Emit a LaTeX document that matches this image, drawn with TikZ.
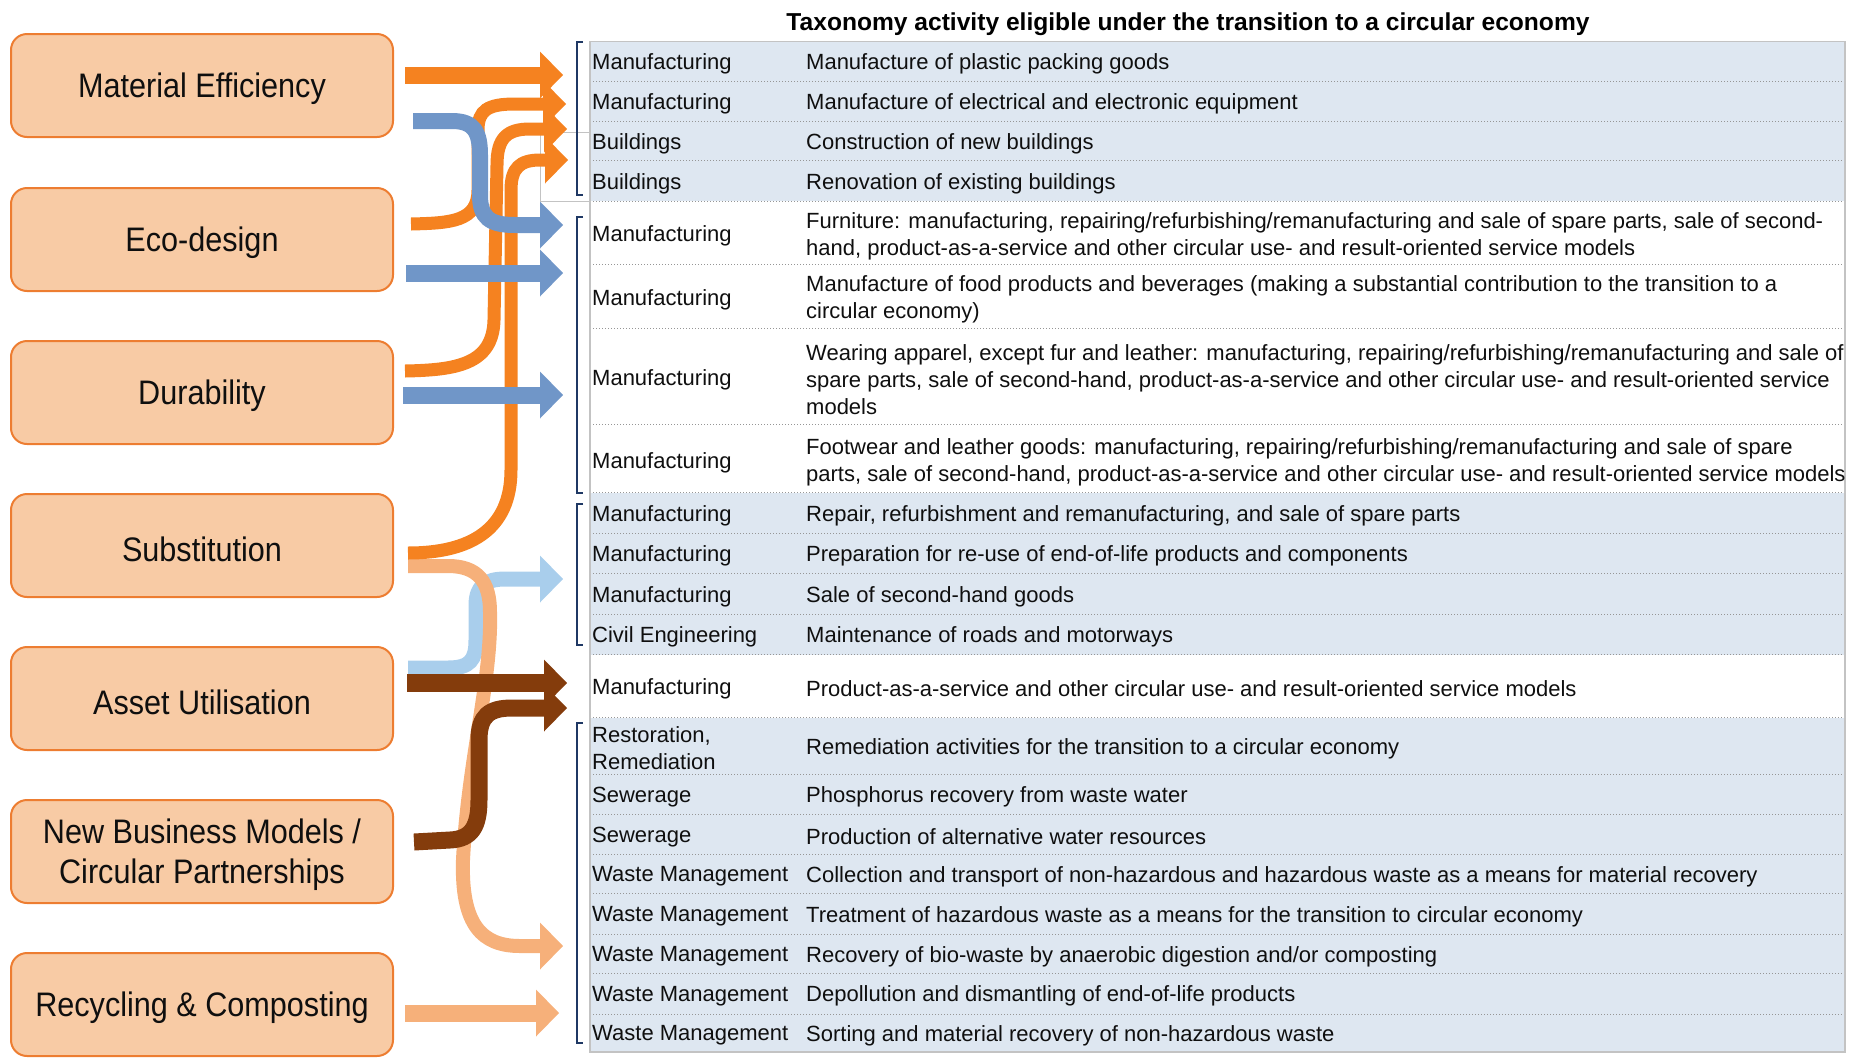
\documentclass[tikz,border=0pt]{standalone}
\usepackage{fontspec}
\usepackage{graphicx}
\setmainfont{Liberation Sans}
\newfontfamily\boxfont[FakeStretch=0.9]{Liberation Sans}
\newfontfamily\titlefont[FakeStretch=0.86]{Liberation Sans}
\usetikzlibrary{arrows.meta}
\definecolor{cOrange}{RGB}{245,130,32}
\definecolor{cBlue}{RGB}{112,150,200}
\definecolor{cLBlue}{RGB}{169,206,236}
\definecolor{cBrown}{RGB}{132,60,12}
\definecolor{cLOrange}{RGB}{246,176,122}
\definecolor{cBoxFill}{RGB}{248,203,165}
\definecolor{cBoxLine}{RGB}{237,125,49}
\definecolor{cRow}{RGB}{222,231,241}
\definecolor{cGrid}{RGB}{195,195,195}
\definecolor{cDot}{RGB}{150,150,150}
\definecolor{cNavy}{RGB}{31,56,100}
\definecolor{cText}{RGB}{15,15,15}
\newcommand\trow[4]{%
  \node[catcell] (c#1) at (592,#2+2.5) {#3};
  \node[desccell] (d#1) at (806,#2+2.5) {#4};}
\newcommand\cboxat[4]{%
  \node[cbox] (#1) at (202,#2) {};
  \node[boxlabel] (#1L) at ([yshift=-3.5pt]#1.center) {#3};}
\begin{document}
\begin{tikzpicture}[x=1pt,y=-1pt,
  cbox/.style={draw=cBoxLine, fill=cBoxFill, line width=2pt, rounded corners=16pt,
    minimum width=382pt, minimum height=103pt, inner sep=0pt},
  boxlabel/.style={inner sep=0pt, align=center, text=cText,
    font=\boxfont\fontsize{34}{40}\selectfont},
  catcell/.style={anchor=west, inner sep=0pt, align=left, text=cText, font=\fontsize{22}{27}\selectfont},
  desccell/.style={anchor=west, inner sep=0pt, align=left, text=cText, font=\fontsize{22}{27}\selectfont},
  dotline/.style={cDot, line width=0.8pt, dash pattern=on 1pt off 2pt},
  brk/.style={cNavy, line width=2pt},
  arr/.style={line width=#1, -{Triangle[width=47pt,length=23pt,line width=0pt]}}
]
\path[use as bounding box] (0,0) rectangle (1866,1061);

% title
\node (title) at (1188,24) {\resizebox{803pt}{\height}{\titlefont\bfseries\fontsize{24.5}{28}\selectfont Taxonomy activity eligible under the transition to a circular economy}};

% left boxes
\cboxat{me}{85.5}{Material Efficiency}{}
\cboxat{eco}{239.5}{Eco-design}{}
\cboxat{dur}{392.5}{Durability}{}
\cboxat{sub}{545.5}{Substitution}{}
\cboxat{asset}{698.5}{Asset Utilisation}{}
\cboxat{nbm}{851.5}{New Business Models /\\Circular Partnerships}{}
\cboxat{rec}{1004.5}{Recycling \& Composting}{}

% table backgrounds
\fill[cRow] (590,41.7) rectangle (1845,201.1);
\fill[cRow] (590,492.7) rectangle (1845,654.5);
\fill[cRow] (590,717.6) rectangle (1845,1052);
\foreach \yy in {80.9,121.4,160.7,201.1,264.2,328.5,424.8,492.7,533.1,573.6,614.1,654.5,717.6,774.7,814.0,854.5,893.7,934.2,973.5,1013.9}
  \draw[dotline] (590,\yy) -- (1845,\yy);
\draw[cGrid, line width=1.2pt] (590,41.7) rectangle (1845,1052);
\draw[cGrid, line width=1pt] (540,132) -- (590,132);
\draw[cGrid, line width=1pt] (540,132) -- (540,201) -- (590,201);

% brackets
\draw[brk] (583,42) -- (577,42) -- (577,195) -- (583,195);
\draw[brk] (583,217) -- (577,217) -- (577,493) -- (583,493);
\draw[brk] (583,504) -- (577,504) -- (577,645) -- (583,645);
\draw[brk] (583,723) -- (577,723) -- (577,1043) -- (583,1043);

% table rows
\trow{1}{61.3}{Manufacturing}{Manufacture of plastic packing goods}
\trow{2}{101.2}{Manufacturing}{Manufacture of electrical and electronic equipment}
\trow{3}{141}{Buildings}{Construction of new buildings}
\trow{4}{181}{Buildings}{Renovation of existing buildings}
\trow{5}{233.5}{Manufacturing}{Furniture: manufacturing, repairing/refurbishing/remanufacturing and sale of spare parts, sale of second-\\hand, product-as-a-service and other circular use- and result-oriented service models}
\trow{6}{297}{Manufacturing}{Manufacture of food products and beverages (making a substantial contribution to the transition to a\\circular economy)}
\trow{7}{377}{Manufacturing}{Wearing apparel, except fur and leather: manufacturing, repairing/refurbishing/remanufacturing and sale of\\spare parts, sale of second-hand, product-as-a-service and other circular use- and result-oriented service\\models}
\trow{8}{460}{Manufacturing}{Footwear and leather goods: manufacturing, repairing/refurbishing/remanufacturing and sale of spare\\parts, sale of second-hand, product-as-a-service and other circular use- and result-oriented service models}
\trow{9}{513}{Manufacturing}{Repair, refurbishment and remanufacturing, and sale of spare parts}
\trow{10}{553.4}{Manufacturing}{Preparation for re-use of end-of-life products and components}
\trow{11}{593.9}{Manufacturing}{Sale of second-hand goods}
\trow{12}{634.3}{Civil Engineering}{Maintenance of roads and motorways}
\trow{13}{686}{Manufacturing}{Product-as-a-service and other circular use- and result-oriented service models}
\trow{14}{746}{Restoration,\\Remediation}{Remediation activities for the transition to a circular economy}
\trow{15}{794.4}{Sewerage}{Phosphorus recovery from waste water}
\trow{16}{834.3}{Sewerage}{Production of alternative water resources}
\trow{17}{874}{Waste Management}{Collection and transport of non-hazardous and hazardous waste as a means for material recovery}
\trow{18}{914}{Waste Management}{Treatment of hazardous waste as a means for the transition to circular economy}
\trow{19}{953.9}{Waste Management}{Recovery of bio-waste by anaerobic digestion and/or composting}
\trow{20}{993.7}{Waste Management}{Depollution and dismantling of end-of-life products}
\trow{21}{1033}{Waste Management}{Sorting and material recovery of non-hazardous waste}

% arrow end points
\coordinate (sA1) at (405,75);   \coordinate (tA1) at (563,75);
\coordinate (sB1) at (413,121);  \coordinate (tB1) at (563,225);
\coordinate (sO2) at (411,224);  \coordinate (tO2) at (566,104);
\coordinate (sB2) at (406,273);  \coordinate (tB2) at (563,273);
\coordinate (sO3) at (405,371);  \coordinate (tO3) at (567,129);
\coordinate (sB3) at (403,395);  \coordinate (tB3) at (563,395);
\coordinate (sO4) at (408,553);  \coordinate (tO4) at (568,160);
\coordinate (sL1) at (408,566);  \coordinate (tL1) at (563,946);
\coordinate (sLB) at (408,668);  \coordinate (tLB) at (563,579);
\coordinate (sD1) at (407,683);  \coordinate (tD1) at (567,683);
\coordinate (sD2) at (414,842);  \coordinate (tD2) at (567,708);
\coordinate (sL2) at (405,1013); \coordinate (tL2) at (559,1013);

% arrows
\draw[arr=15pt, cLBlue] (sLB) -- (448,668) .. controls (470,668) and (476,660) .. (476,640) -- (476,605) .. controls (476,586) and (486,579) .. (505,579) -- (tLB);
\draw[arr=14pt, cLOrange] (sL1) -- (448,566) .. controls (478,566) and (490,582) .. (490,612) .. controls (492,680) and (468,760) .. (463,860) .. controls (461,925) and (482,946) .. (520,946) -- (tL1);
\draw[arr=17pt, cLOrange] (sL2) -- (tL2);
\draw[arr=13pt, cOrange] (sO4) .. controls (470,553) and (511,530) .. (511,470) -- (511,190) .. controls (511,168) and (520,160) .. (540,160) -- (tO4);
\draw[arr=13pt, cOrange] (sO3) .. controls (455,370) and (493,365) .. (494,320) -- (497,165) .. controls (497,138) and (507,129) .. (530,129) -- (tO3);
\draw[arr=13pt, cOrange] (sO2) .. controls (450,223) and (478,222) .. (478,190) -- (478,130) .. controls (478,110) and (488,104) .. (515,104) -- (tO2);
\draw[arr=17pt, cOrange] (sA1) -- (tA1);
\draw[arr=16pt, cBlue] (sB1) -- (452,121) .. controls (474,121) and (480,132) .. (480,155) -- (480,195) .. controls (480,218) and (490,225) .. (515,225) -- (tB1);
\draw[arr=17pt, cBlue] (sB2) -- (tB2);
\draw[arr=17pt, cBlue] (sB3) -- (tB3);
\draw[arr=18pt, cBrown] (sD1) -- (tD1);
\draw[arr=17pt, cBrown] (sD2) -- (450,840) .. controls (472,839) and (479,826) .. (479,800) -- (479,740) .. controls (479,716) and (489,708) .. (512,708) -- (tD2);
\end{tikzpicture}
\end{document}
